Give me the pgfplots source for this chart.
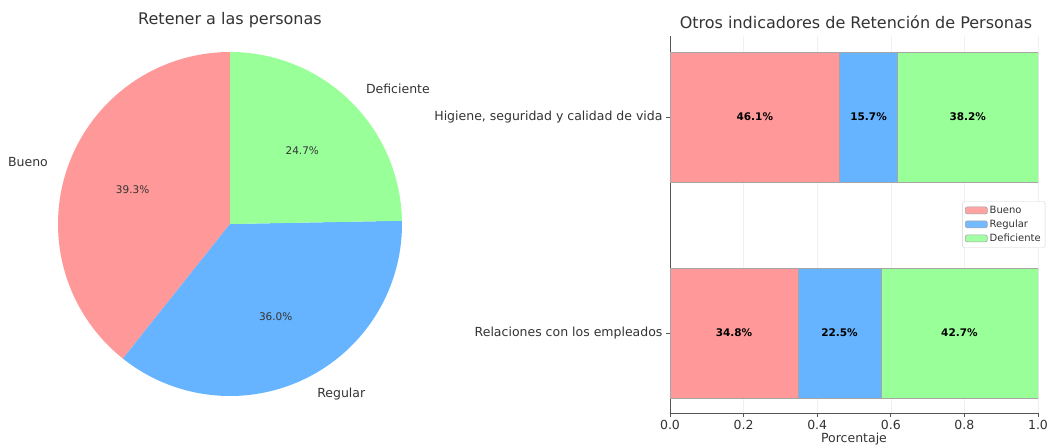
\documentclass[border=0pt]{standalone}
\usepackage{fontspec}
\setmainfont{DejaVu Sans}
\usepackage{pgfplots}
\pgfplotsset{compat=1.18}
\definecolor{cB}{HTML}{FF9999}
\definecolor{cR}{HTML}{66B3FF}
\definecolor{cD}{HTML}{99FF99}
\definecolor{txt}{HTML}{333333}
\definecolor{spine}{HTML}{555555}
\begin{document}
\begin{tikzpicture}
\path[use as bounding box] (0pt,0pt) rectangle (1048pt,-445pt);
% ---------------- pie ----------------
\def\vB{39.3}\def\vR{36.0}\def\vD{24.7}
\pgfmathsetmacro{\aA}{90}
\pgfmathsetmacro{\aB}{90+3.6*\vB}
\pgfmathsetmacro{\aC}{\aB+3.6*\vR}
\pgfmathsetmacro{\aD}{\aC+3.6*\vD}
\pgfmathsetmacro{\mB}{(\aA+\aB)/2}
\pgfmathsetmacro{\mR}{(\aB+\aC)/2}
\pgfmathsetmacro{\mD}{(\aC+\aD)/2}
\node[font=\fontsize{16}{19}\selectfont, text=txt] at (230pt,-20pt) {Retener a las personas};
\begin{axis}[at={(230pt,-224pt)}, anchor=center, scale only axis,
  width=447.2pt, height=447.2pt,
  xmin=-1.3, xmax=1.3, ymin=-1.3, ymax=1.3, hide axis, clip=false]
\addplot[fill=cB, draw=none, domain=\aA:\aB, samples=120, variable=\t] ({cos(\t)},{sin(\t)}) -- (axis cs:0,0) -- cycle;
\addplot[fill=cR, draw=none, domain=\aB:\aC, samples=120, variable=\t] ({cos(\t)},{sin(\t)}) -- (axis cs:0,0) -- cycle;
\addplot[fill=cD, draw=none, domain=\aC:\aD, samples=120, variable=\t] ({cos(\t)},{sin(\t)}) -- (axis cs:0,0) -- cycle;
\node[anchor=east, text=txt, font=\fontsize{12.5}{15}\selectfont] at (axis cs:{1.1*cos(\mB)},{1.1*sin(\mB)}) {Bueno};
\node[anchor=west, text=txt, font=\fontsize{12.5}{15}\selectfont] at (axis cs:{1.1*cos(\mR)},{1.1*sin(\mR)}) {Regular};
\node[anchor=west, text=txt, font=\fontsize{12.5}{15}\selectfont] at (axis cs:{1.1*cos(\mD)},{1.1*sin(\mD)}) {Deficiente};
\node[text=txt, font=\fontsize{10.5}{13}\selectfont] at (axis cs:{0.6*cos(\mB)},{0.6*sin(\mB)}) {39.3\%};
\node[text=txt, font=\fontsize{10.5}{13}\selectfont] at (axis cs:{0.6*cos(\mR)},{0.6*sin(\mR)}) {36.0\%};
\node[text=txt, font=\fontsize{10.5}{13}\selectfont] at (axis cs:{0.6*cos(\mD)},{0.6*sin(\mD)}) {24.7\%};
\end{axis}
% ---------------- stacked bars ----------------
\node[font=\fontsize{16}{19}\selectfont, text=txt] at (856pt,-22pt) {Otros indicadores de Retención de Personas};
\begin{axis}[at={(670pt,-413pt)}, anchor=south west, scale only axis,
  width=368pt, height=377pt,
  xmin=0, xmax=1, ymin=-0.37, ymax=1.375,
  xbar stacked, bar width=129.6pt,
  axis lines*=left, axis line style={spine, line width=0.9pt},
  xmajorgrids, grid style={gray!12, line width=0.6pt},
  tick align=outside, major tick length=4pt, tick style={spine, line width=0.8pt},
  ytick={0,1}, yticklabels={Relaciones con los empleados,{Higiene, seguridad y calidad de vida}},
  xtick={0,0.2,0.4,0.6,0.8,1},
  xticklabel={\pgfmathprintnumber[fixed,fixed zerofill,precision=1]{\tick}},
  /pgf/number format/assume math mode=true,
  ticklabel style={font=\fontsize{12.5}{15}\selectfont, text=txt},
  xlabel={Porcentaje}, xlabel style={font=\fontsize{12.5}{15}\selectfont, text=txt, yshift=4pt},
  legend style={at={(1.02,0.5)}, anchor=east, font=\fontsize{10}{12}\selectfont, text=txt,
    draw=gray!35, fill=white, fill opacity=0.9, text opacity=1, rounded corners=2pt,
    row sep=1pt, inner sep=2.5pt},
  legend cell align=left,
  legend image code/.code={\draw[#1, draw=gray!70] (0pt,-3.5pt) rectangle (22pt,3.5pt);},
]
\addplot[fill=cB, draw=gray!70, line width=0.6pt] coordinates {(0.348,0) (0.461,1)};
\addplot[fill=cR, draw=gray!70, line width=0.6pt] coordinates {(0.225,0) (0.157,1)};
\addplot[fill=cD, draw=gray!70, line width=0.6pt] coordinates {(0.427,0) (0.382,1)};
\legend{Bueno, Regular, Deficiente}
\end{axis}
\begin{axis}[at={(670pt,-413pt)}, anchor=south west, scale only axis,
  width=368pt, height=377pt,
  xmin=0, xmax=1, ymin=-0.37, ymax=1.375, hide axis]
\addplot[draw=none, nodes near coords, point meta=explicit symbolic, nodes near coords align=center,
  nodes near coords style={font=\fontsize{10.5}{13}\bfseries\selectfont, text=black}]
  coordinates {(0.2305,1) [46.1\%] (0.5395,1) [15.7\%] (0.809,1) [38.2\%]
               (0.174,0) [34.8\%] (0.4605,0) [22.5\%] (0.7865,0) [42.7\%]};
\end{axis}
\end{tikzpicture}
\end{document}
